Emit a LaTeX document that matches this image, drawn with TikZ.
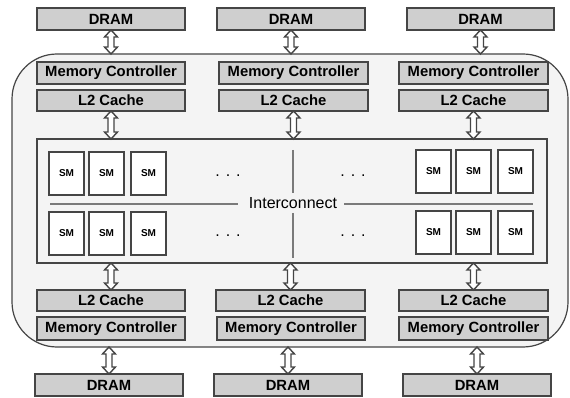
\documentclass[tikz,border=0pt]{standalone}
\usepackage{fontspec}
\setmainfont{Liberation Sans}
\usetikzlibrary{calc}
\definecolor{boxfill}{HTML}{CFCFCF}
\definecolor{boxline}{HTML}{454545}
\definecolor{bgfill}{HTML}{F4F4F4}
\definecolor{icline}{HTML}{7A7A7A}
\newcommand{\dblarrow}[2]{%
  \draw[arrline] let \p1=(#1), \p2=(#2) in
    (\x1,\y1) -- (\x1+6.5pt,\y1-7pt) -- (\x1+3pt,\y1-7pt) -- (\x1+3pt,\y2+7pt)
    -- (\x1+6.5pt,\y2+7pt) -- (\x1,\y2) -- (\x1-6.5pt,\y2+7pt) -- (\x1-3pt,\y2+7pt)
    -- (\x1-3pt,\y1-7pt) -- (\x1-6.5pt,\y1-7pt) -- cycle;}
\begin{document}
\begin{tikzpicture}[x=1pt,y=-1pt,
  gbox/.style={draw=boxline, fill=boxfill, line width=1.3pt, inner sep=0pt, outer sep=0pt,
    anchor=north west, font=\fontsize{14.8}{16}\selectfont\bfseries},
  smbox/.style={draw=boxline, fill=white, line width=1.2pt, inner sep=0pt, outer sep=0pt,
    anchor=north west, minimum width=35pt, minimum height=43pt,
    font=\fontsize{10}{12}\selectfont\bfseries},
  arrline/.style={draw=boxline, fill=white, line width=1.4pt, line join=miter},
  icl/.style={draw=icline, line width=2pt},
  dotsl/.style={font=\fontsize{16}{16}\selectfont, inner sep=0pt}]
\useasboundingbox (0,0) rectangle (570,398);
% outer chip
\node[draw=boxline, fill=bgfill, line width=1.2pt, rounded corners=45pt, inner sep=0pt, outer sep=0pt,
  anchor=north west, minimum width=556pt, minimum height=293pt] (outer) at (12,54) {};
% inner interconnect area
\node[draw=boxline, fill=bgfill, line width=1.2pt, inner sep=0pt, outer sep=0pt,
  anchor=north west, minimum width=510pt, minimum height=124pt] (inner) at (37,139) {};
% top row
\node[gbox, minimum width=148pt, minimum height=22pt] (dt1) at (37,8) {DRAM};
\node[gbox, minimum width=148pt, minimum height=22pt] (dt2) at (217,8) {DRAM};
\node[gbox, minimum width=147pt, minimum height=22pt] (dt3) at (407,8) {DRAM};
\node[gbox, minimum width=148pt, minimum height=22pt] (mt1) at (37,62) {Memory Controller};
\node[gbox, minimum width=149pt, minimum height=22pt] (mt2) at (219,62) {Memory Controller};
\node[gbox, minimum width=149pt, minimum height=22pt] (mt3) at (399,62) {Memory Controller};
\node[gbox, minimum width=148pt, minimum height=21pt] (lt1) at (37,90) {L2 Cache};
\node[gbox, minimum width=149pt, minimum height=21pt] (lt2) at (219,90) {L2 Cache};
\node[gbox, minimum width=149pt, minimum height=21pt] (lt3) at (399,90) {L2 Cache};
% bottom row
\node[gbox, minimum width=148pt, minimum height=21pt] (lb1) at (37,290) {L2 Cache};
\node[gbox, minimum width=149pt, minimum height=21pt] (lb2) at (216,290) {L2 Cache};
\node[gbox, minimum width=149pt, minimum height=21pt] (lb3) at (399,290) {L2 Cache};
\node[gbox, minimum width=148pt, minimum height=23pt] (mb1) at (37,317) {Memory Controller};
\node[gbox, minimum width=148pt, minimum height=23pt] (mb2) at (217,317) {Memory Controller};
\node[gbox, minimum width=149pt, minimum height=23pt] (mb3) at (399,317) {Memory Controller};
\node[gbox, minimum width=148pt, minimum height=22pt] (db1) at (35,374) {DRAM};
\node[gbox, minimum width=148pt, minimum height=22pt] (db2) at (214,374) {DRAM};
\node[gbox, minimum width=148pt, minimum height=22pt] (db3) at (403,374) {DRAM};
% SMs
\node[smbox] (s1) at (49,152) {SM};
\node[smbox] (s2) at (89,152) {SM};
\node[smbox] (s3) at (131,152) {SM};
\node[smbox] (s4) at (416,150) {SM};
\node[smbox] (s5) at (456,150) {SM};
\node[smbox] (s6) at (498,150) {SM};
\node[smbox] (s7) at (49,212) {SM};
\node[smbox] (s8) at (89,212) {SM};
\node[smbox] (s9) at (131,212) {SM};
\node[smbox] (s10) at (416,211) {SM};
\node[smbox] (s11) at (456,211) {SM};
\node[smbox] (s12) at (498,211) {SM};
% interconnect
\node[font=\fontsize{16}{16}\selectfont, inner sep=0pt] (ic) at (293,203) {Interconnect};
\coordinate (hl1) at (50,204);
\coordinate (hl2) at (238,204);
\coordinate (hr1) at (344,204);
\coordinate (hr2) at (533,204);
\coordinate (vt1) at (293,150);
\coordinate (vt2) at (293,193);
\coordinate (vb1) at (293,213);
\coordinate (vb2) at (293,258);
\draw[icl] (hl1) -- (hl2);
\draw[icl] (hr1) -- (hr2);
\draw[icl] (vt1) -- (vt2);
\draw[icl] (vb1) -- (vb2);
\node[dotsl] (dd1) at (228,176) {. . .};
\node[dotsl] (dd2) at (353,176) {. . .};
\node[dotsl] (dd3) at (228,236) {. . .};
\node[dotsl] (dd4) at (353,236) {. . .};
% arrows
\dblarrow{dt1.south}{dt1.south |- outer.north}
\dblarrow{dt2.south}{dt2.south |- outer.north}
\dblarrow{dt3.south}{dt3.south |- outer.north}
\dblarrow{lt1.south}{lt1.south |- inner.north}
\dblarrow{lt2.south}{lt2.south |- inner.north}
\dblarrow{lt3.south}{lt3.south |- inner.north}
\dblarrow{lb1.north |- inner.south}{lb1.north}
\dblarrow{lb2.north |- inner.south}{lb2.north}
\dblarrow{lb3.north |- inner.south}{lb3.north}
\dblarrow{db1.north |- outer.south}{db1.north}
\dblarrow{db2.north |- outer.south}{db2.north}
\dblarrow{db3.north |- outer.south}{db3.north}
\end{tikzpicture}
\end{document}
